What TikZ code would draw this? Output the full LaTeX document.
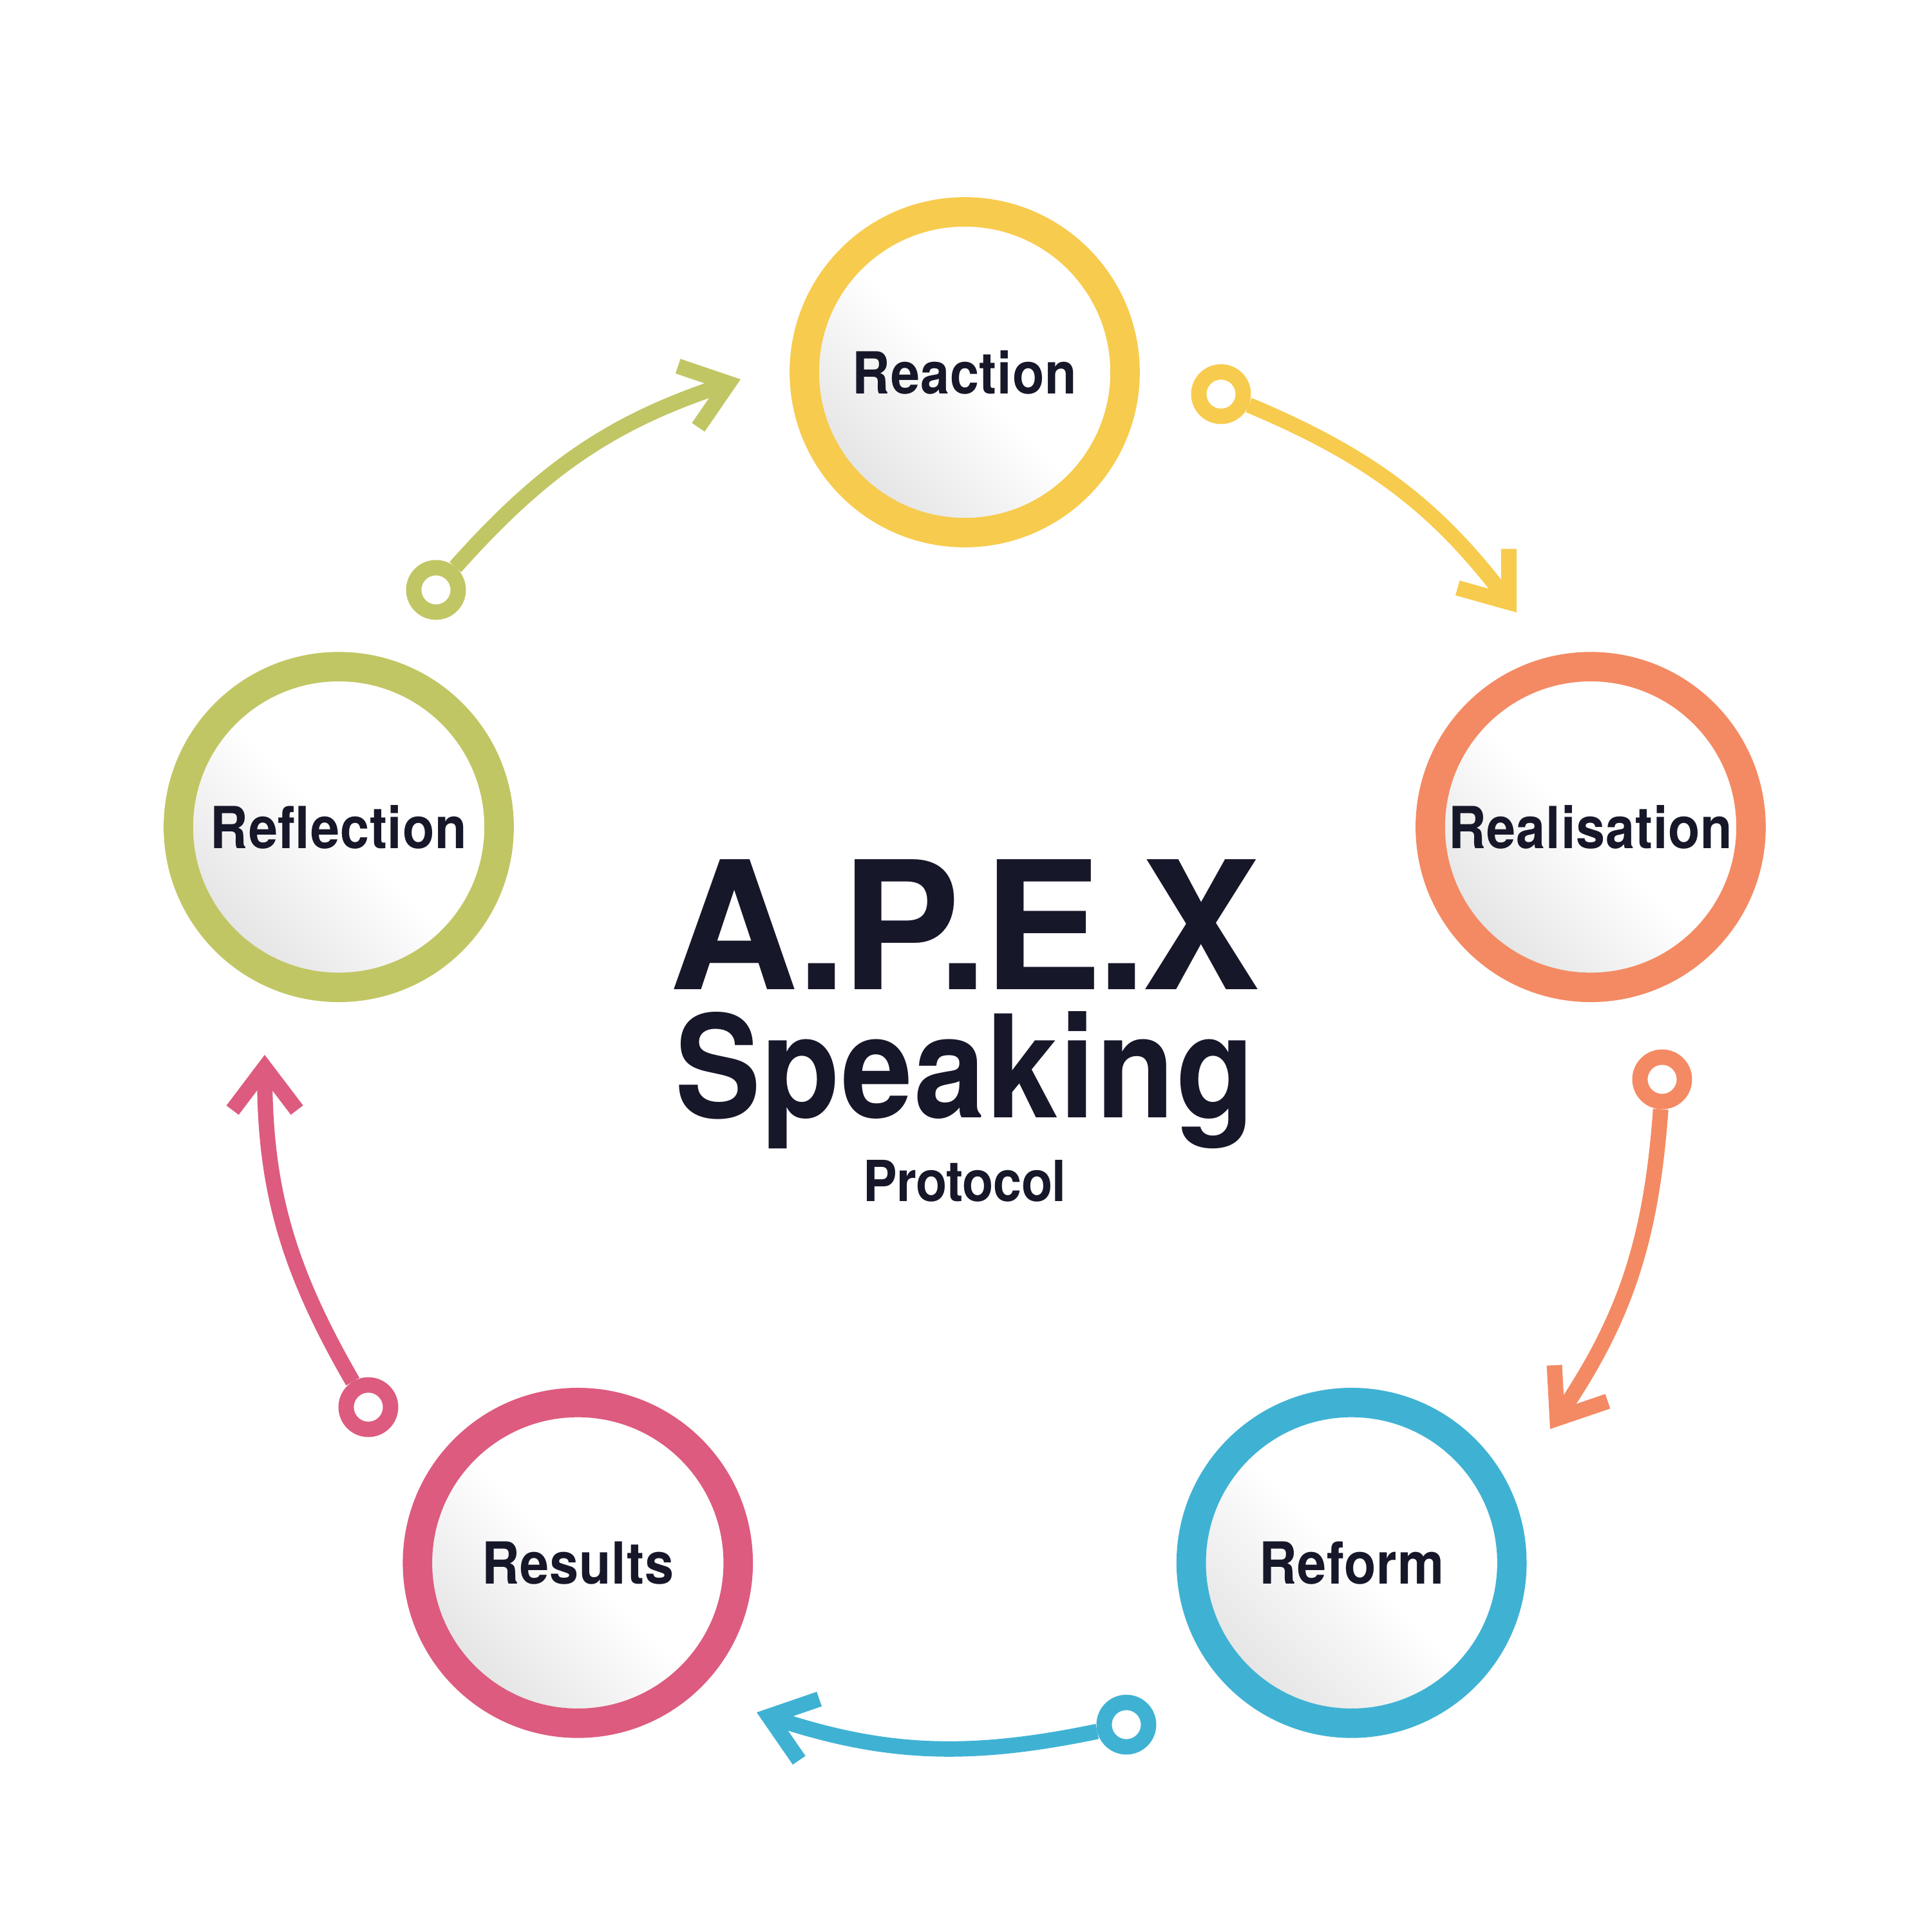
\documentclass[tikz,border=0pt]{standalone}
\usepackage{fontspec}
\setmainfont{TeX Gyre Heros}
\newfontfamily\stagefont[FakeStretch=0.9, LetterSpace=1]{TeX Gyre Heros}
\newfontfamily\titlefont[LetterSpace=-2.8]{TeX Gyre Heros}
\usepackage{tikz}
\usetikzlibrary{arrows.meta, positioning, calc}

\definecolor{apexyellow}{HTML}{F7CB4D}
\definecolor{apexorange}{HTML}{F48A63}
\definecolor{apexblue}{HTML}{3FB2D4}
\definecolor{apexpink}{HTML}{DD5B7E}
\definecolor{apexgreen}{HTML}{C1C664}
\definecolor{inkdark}{HTML}{17172A}

\begin{document}
\begin{tikzpicture}[
  stage/.style={circle, minimum size=2.49cm, inner sep=0pt, line width=6.5pt,
    shading=axis, top color=white, bottom color=black!11, middle color=white,
    shading angle=-45, text=inkdark,
    font={\stagefont\bfseries\fontsize{12.8}{14}\selectfont}},
  ringdot/.style={circle, minimum size=0.345cm, inner sep=0pt, line width=3.4pt, fill=white},
  cyclearrow/.style={line width=3.4pt, -{Straight Barb[sharp, length=0.33cm, width=0.5cm]}},
  titletext/.style={anchor=base, inner sep=0pt, text=inkdark}
]
  % canvas
  \fill[white] (-7.49,-7.0) rectangle (7.51,8.0);
  \useasboundingbox (-7.49,-7.0) rectangle (7.51,8.0);

  % Five stages on a pentagon round the title
  \node[stage, draw=apexyellow] (reaction)    at (90:5.11)   {Reaction};
  \node[stage, draw=apexorange] (realisation) at (18:5.11)   {Realisation};
  \node[stage, draw=apexblue]   (reform)      at (-54:5.11)  {Reform};
  \node[stage, draw=apexpink]   (results)     at (-126:5.11) {Results};
  \node[stage, draw=apexgreen]  (reflection)  at (162:5.11)  {Reflection};

  % Start dots and arrow ends
  \node[ringdot, draw=apexyellow] (dreaction)    at (1.99,4.94)    {};
  \node[ringdot, draw=apexorange] (drealisation) at (5.415,-0.38)  {};
  \node[ringdot, draw=apexblue]   (dreform)      at (1.255,-5.39)  {};
  \node[ringdot, draw=apexpink]   (dresults)     at (-4.63,-2.925) {};
  \node[ringdot, draw=apexgreen]  (dreflection)  at (-4.105,3.42)  {};
  \coordinate (trealisation) at (4.285,3.245);
  \coordinate (treform)      at (4.545,-3.095);
  \coordinate (tresults)     at (-1.615,-5.295);
  \coordinate (treflection)  at (-5.435,-0.19);
  \coordinate (treaction)    at (-1.74,5.055);

  % Cycle arrows
  \draw[cyclearrow, apexyellow] (dreaction)    to[bend left=15] (trealisation);
  \draw[cyclearrow, apexorange] (drealisation) to[bend left=15] (treform);
  \draw[cyclearrow, apexblue]   (dreform)      to[bend left=15] (tresults);
  \draw[cyclearrow, apexpink]   (dresults)     to[bend left=15] (treflection);
  \draw[cyclearrow, apexgreen]  (dreflection)  to[bend left=15] (treaction);

  % Title
  \node[titletext, font={\titlefont\bfseries\fontsize{39.4}{42}\selectfont}]
    (apex) at (0,0.32) {A.P.E.X};
  \node[titletext, font={\stagefont\bfseries\addfontfeatures{LetterSpace=0.9}\fontsize{31.5}{34}\selectfont}]
    (speaking) at (0,-0.675) {Speaking};
  \node[titletext, font={\stagefont\bfseries\addfontfeatures{LetterSpace=-0.6}\fontsize{12.5}{14}\selectfont}]
    (protocol) at (0,-1.325) {Protocol};
\end{tikzpicture}
\end{document}
